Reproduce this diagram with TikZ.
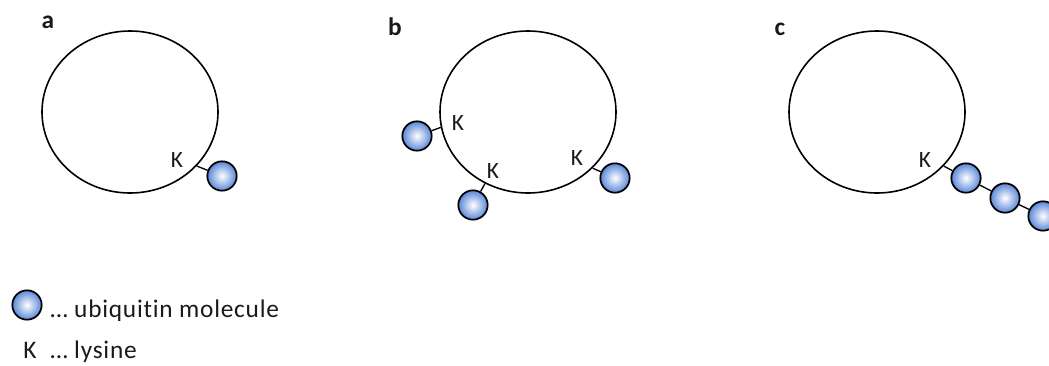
\documentclass[tikz,border=0pt]{standalone}
\usepackage{fontspec}
\setmainfont{Carlito}[Ligatures=NoCommon]
\newfontfamily\legfont{Carlito}[Ligatures=NoCommon, LetterSpace=3]
\usepackage{tikz}
\usetikzlibrary{shapes.geometric,positioning}
\definecolor{ubblue}{HTML}{5A87D8}
\definecolor{darktext}{HTML}{1A1A1A}

\begin{document}
\begin{tikzpicture}[x=0.75pt, y=-0.75pt,
  cell/.style={ellipse, draw=black, line width=1.2pt, inner sep=0pt,
               minimum width=132pt, minimum height=121.5pt},
  ubi/.style={circle, draw=black, line width=1.3pt, inner sep=0pt,
              minimum size=22pt, inner color=white, outer color=ubblue},
  link/.style={draw=black, line width=1pt},
  lys/.style={font=\fontsize{17.5}{20}\selectfont, text=darktext, inner sep=0pt},
  panel/.style={font=\fontsize{19}{22}\selectfont\bfseries, text=darktext,
                anchor=base, inner sep=0pt},
  legend/.style={font=\legfont\fontsize{19}{22}\selectfont, text=darktext,
                 anchor=base west, inner sep=0pt},
]
  \useasboundingbox (0,0) rectangle (1049,365);

  % panel a
  \node[panel] (la) at (48,28) {a};
  \node[cell] (cella) at (130,112) {};
  \node[lys] (ka) at (177,160) {K};
  \node[ubi] (ua) at (222,176) {};
  \draw[link] (cella.-39) -- (ua);

  % panel b
  \node[panel] (lb) at (395,35) {b};
  \node[cell] (cellb) at (528,112) {};
  \node[lys] (kb1) at (458,123) {K};
  \node[lys] (kb2) at (493,171) {K};
  \node[lys] (kb3) at (577,158) {K};
  \node[ubi] (ub1) at (417,136) {};
  \node[ubi] (ub2) at (473,205) {};
  \node[ubi] (ub3) at (615,178) {};
  \draw[link] (cellb.-170) -- (ub1);
  \draw[link] (cellb.-121) -- (ub2);
  \draw[link] (cellb.-41) -- (ub3);

  % panel c
  \node[panel] (lc) at (780,35) {c};
  \node[cell] (cellc) at (877,112) {};
  \node[lys] (kc) at (925,160) {K};
  \node[ubi] (uc1) at (966,178) {};
  \node[ubi] (uc2) at (1005,198) {};
  \node[ubi] (uc3) at (1043,216) {};
  \draw[link] (cellc.-39) -- (uc1) -- (uc2) -- (uc3);

  % legend
  \node[ubi] (lgu) at (27,305) {};
  \node[legend] (lgtu) at (50,317) {… ubiquitin molecule};
  \node[legend, anchor=base] (lgk) at (30,358) {K};
  \node[legend] (lgtk) at (50,358) {… lysine};
\end{tikzpicture}
\end{document}
